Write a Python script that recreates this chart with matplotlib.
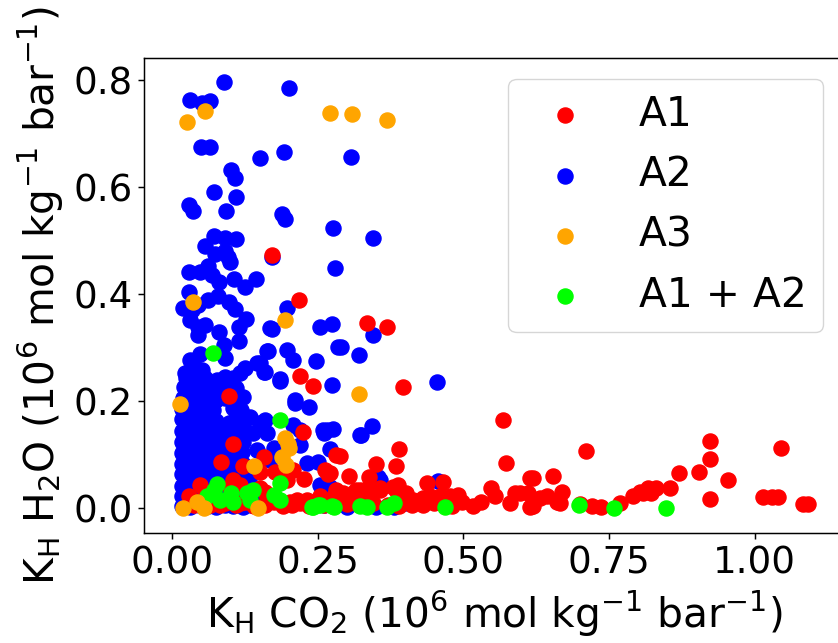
import matplotlib
matplotlib.use("Agg")
import matplotlib.pyplot as plt

# ---------------- data ----------------
a3_x = [0.025, 0.057, 0.270, 0.308, 0.369, 0.035, 0.193, 0.321, 0.014, 0.019,
        0.054, 0.042, 0.141, 0.148, 0.194, 0.200, 0.188, 0.196, 0.198]
a3_y = [0.722, 0.743, 0.739, 0.737, 0.726, 0.385, 0.352, 0.213, 0.194, 0.000,
        0.000, 0.012, 0.079, 0.000, 0.131, 0.112, 0.096, 0.081, 0.120]

a12_x = [0.070, 0.185, 0.077, 0.071, 0.060, 0.100, 0.105, 0.128, 0.139, 0.134,
         0.082, 0.185, 0.174, 0.185, 0.242, 0.251, 0.274, 0.322, 0.334, 0.368,
         0.380, 0.468, 0.699, 0.759, 0.847, 0.240, 0.254, 0.277]
a12_y = [0.291, 0.164, 0.045, 0.034, 0.022, 0.028, 0.012, 0.028, 0.034, 0.016,
         0.016, 0.047, 0.025, 0.016, 0.003, 0.006, 0.004, 0.004, 0.003, 0.003,
         0.009, 0.002, 0.006, 0.001, 0.001, 0.003, 0.006, 0.003]

a1_x = [0.172, 0.217, 0.219, 0.242, 0.098, 0.335, 0.369, 0.397, 0.568, 0.573,
        0.389, 0.288, 0.349, 0.385, 0.271, 0.303, 0.337, 0.388, 0.437, 0.465,
        0.548, 0.554, 0.588, 0.614, 0.282, 0.294, 0.311, 0.322, 0.340, 0.357,
        0.385, 0.402, 0.411, 0.431, 0.442, 0.460, 0.477, 0.491, 0.497, 0.517,
        0.614, 0.620, 0.654, 0.710, 0.611, 0.597, 0.631, 0.643, 0.620, 0.670,
        0.666, 0.720, 0.737, 0.768, 0.791, 0.803, 0.817, 0.831, 0.854, 0.808,
        0.822, 0.870, 0.904, 0.924, 0.924, 0.923, 0.954, 1.014, 1.029, 1.040,
        1.046, 1.083, 1.091, 0.104, 0.084, 0.122, 0.157, 0.151, 0.048, 0.105,
        0.117, 0.099, 0.177, 0.197, 0.225, 0.268, 0.282, 0.028, 0.151, 0.037,
        0.082, 0.117, 0.162, 0.202, 0.214, 0.231, 0.254, 0.277, 0.288, 0.414,
        0.293, 0.316, 0.338, 0.356, 0.379, 0.402, 0.208, 0.226, 0.263, 0.159,
        0.031, 0.050, 0.065, 0.090, 0.110, 0.125, 0.140, 0.160, 0.175, 0.190,
        0.205, 0.220, 0.235, 0.260, 0.270, 0.300, 0.320, 0.345, 0.370, 0.390,
        0.430, 0.450, 0.480, 0.530, 0.580, 0.660, 0.700]
a1_y = [0.473, 0.389, 0.247, 0.229, 0.210, 0.346, 0.338, 0.226, 0.164, 0.085,
        0.111, 0.098, 0.082, 0.078, 0.065, 0.060, 0.059, 0.044, 0.047, 0.049,
        0.037, 0.022, 0.028, 0.056, 0.034, 0.022, 0.028, 0.034, 0.022, 0.037,
        0.034, 0.022, 0.006, 0.019, 0.022, 0.022, 0.022, 0.025, 0.012, 0.004,
        0.003, 0.057, 0.061, 0.107, 0.028, 0.028, 0.019, 0.022, 0.004, 0.031,
        0.009, 0.004, 0.003, 0.010, 0.022, 0.031, 0.037, 0.037, 0.037, 0.028,
        0.028, 0.065, 0.067, 0.126, 0.092, 0.017, 0.052, 0.021, 0.021, 0.021,
        0.112, 0.008, 0.008, 0.120, 0.086, 0.079, 0.096, 0.068, 0.044, 0.053,
        0.044, 0.040, 0.067, 0.053, 0.143, 0.064, 0.100, 0.023, 0.037, 0.006,
        0.006, 0.009, 0.016, 0.012, 0.016, 0.016, 0.022, 0.022, 0.016, 0.016,
        0.028, 0.034, 0.040, 0.034, 0.040, 0.028, 0.072, 0.055, 0.072, 0.030,
        0.010, 0.015, 0.005, 0.010, 0.005, 0.012, 0.004, 0.006, 0.012, 0.004,
        0.006, 0.010, 0.004, 0.006, 0.012, 0.008, 0.005, 0.010, 0.006, 0.004,
        0.006, 0.010, 0.004, 0.012, 0.010, 0.012, 0.008]

a2_x = [0.089, 0.030, 0.064, 0.051, 0.200, 0.049, 0.065, 0.150, 0.192, 0.307,
        0.101, 0.108, 0.071, 0.109, 0.028, 0.036, 0.093, 0.188, 0.193, 0.276,
        0.345, 0.072, 0.091, 0.110, 0.057, 0.073, 0.091, 0.099, 0.096, 0.171,
        0.028, 0.048, 0.062, 0.068, 0.080, 0.106, 0.125, 0.144, 0.028, 0.019,
        0.034, 0.045, 0.062, 0.079, 0.097, 0.108, 0.031, 0.045, 0.057, 0.045,
        0.081, 0.114, 0.127, 0.114, 0.168, 0.088, 0.091, 0.031, 0.048, 0.022,
        0.037, 0.051, 0.077, 0.117, 0.125, 0.151, 0.160, 0.162, 0.280, 0.197,
        0.171, 0.254, 0.274, 0.285, 0.197, 0.208, 0.247, 0.185, 0.274, 0.210,
        0.164, 0.145, 0.157, 0.344, 0.290, 0.321, 0.455, 0.276, 0.324, 0.343,
        0.271, 0.354, 0.457, 0.211, 0.234, 0.160, 0.208, 0.220, 0.265, 0.260,
        0.220, 0.231, 0.251, 0.145, 0.174, 0.168, 0.134, 0.151, 0.162, 0.139,
        0.122, 0.185, 0.259, 0.322, 0.254, 0.271, 0.357, 0.260, 0.300, 0.350,
        0.400, 0.380,
        # dense cluster near the origin
        0.016, 0.030, 0.046, 0.061, 0.075, 0.091, 0.105, 0.121, 0.136, 0.150,
        0.017, 0.031, 0.045, 0.060, 0.076, 0.090, 0.106, 0.120, 0.135,
        0.016, 0.030, 0.046, 0.061, 0.075, 0.091, 0.105, 0.121, 0.137,
        0.017, 0.031, 0.045, 0.060, 0.076, 0.090, 0.106, 0.120, 0.134,
        0.016, 0.030, 0.046, 0.061, 0.075, 0.091, 0.105, 0.121,
        0.017, 0.031, 0.045, 0.060, 0.076, 0.090, 0.106, 0.120,
        0.016, 0.030, 0.046, 0.061, 0.075, 0.091, 0.105, 0.121,
        0.017, 0.031, 0.045, 0.060, 0.076, 0.090, 0.106, 0.120,
        0.016, 0.030, 0.046, 0.061, 0.075, 0.098, 0.110,
        0.017, 0.031, 0.045, 0.060, 0.070, 0.105, 0.118,
        0.018, 0.030, 0.046, 0.061, 0.075, 0.091, 0.105, 0.121,
        0.020, 0.034, 0.048, 0.063, 0.080, 0.095, 0.110,
        0.024, 0.040, 0.056, 0.090, 0.104]
a2_y = [0.797, 0.764, 0.762, 0.757, 0.786, 0.675, 0.675, 0.654, 0.665, 0.657,
        0.632, 0.617, 0.592, 0.582, 0.567, 0.556, 0.556, 0.550, 0.540, 0.523,
        0.505, 0.508, 0.505, 0.503, 0.490, 0.475, 0.480, 0.460, 0.469, 0.470,
        0.441, 0.442, 0.453, 0.436, 0.422, 0.429, 0.414, 0.428, 0.405, 0.374,
        0.371, 0.380, 0.389, 0.396, 0.386, 0.372, 0.352, 0.339, 0.343, 0.324,
        0.330, 0.339, 0.353, 0.313, 0.336, 0.305, 0.280, 0.277, 0.288, 0.252,
        0.265, 0.259, 0.240, 0.252, 0.262, 0.271, 0.255, 0.293, 0.449, 0.374,
        0.335, 0.338, 0.344, 0.301, 0.296, 0.277, 0.275, 0.241, 0.230, 0.202,
        0.293, 0.271, 0.255, 0.323, 0.301, 0.287, 0.236, 0.148, 0.137, 0.153,
        0.110, 0.059, 0.050, 0.196, 0.189, 0.165, 0.156, 0.147, 0.147, 0.140,
        0.118, 0.084, 0.087, 0.109, 0.112, 0.090, 0.171, 0.159, 0.140, 0.140,
        0.153, 0.237, 0.146, 0.137, 0.044, 0.040, 0.053, 0.005, 0.003, 0.003,
        0.010, 0.002,
        # dense cluster near the origin
        0.004, 0.003, 0.005, 0.004, 0.003, 0.005, 0.004, 0.003, 0.005, 0.020,
        0.022, 0.024, 0.021, 0.023, 0.022, 0.024, 0.021, 0.023, 0.025,
        0.042, 0.044, 0.041, 0.043, 0.045, 0.042, 0.044, 0.041, 0.040,
        0.063, 0.061, 0.064, 0.062, 0.060, 0.063, 0.061, 0.064, 0.060,
        0.083, 0.085, 0.082, 0.084, 0.086, 0.083, 0.085, 0.082,
        0.104, 0.102, 0.105, 0.103, 0.101, 0.104, 0.102, 0.105,
        0.124, 0.126, 0.123, 0.125, 0.127, 0.124, 0.126, 0.123,
        0.145, 0.143, 0.146, 0.144, 0.142, 0.145, 0.143, 0.146,
        0.166, 0.164, 0.167, 0.165, 0.163, 0.160, 0.168,
        0.186, 0.184, 0.187, 0.185, 0.183, 0.188, 0.184,
        0.206, 0.204, 0.207, 0.205, 0.203, 0.206, 0.204, 0.207,
        0.226, 0.224, 0.227, 0.225, 0.223, 0.226, 0.224,
        0.244, 0.246, 0.243, 0.245, 0.243]

groups = ["A1", "A2", "A3", "A1 + A2"]
colors = ["red", "blue", "orange", "lime"]

# ---------------- figure ----------------
fig = plt.figure(figsize=(8.38, 6.43), dpi=100)
ax = fig.add_axes([0.1722, 0.1706, 0.834, 0.7387])

S = 118
h_a2 = ax.scatter(a2_x, a2_y, s=S, color=colors[1], label=groups[1], zorder=2)
h_a1 = ax.scatter(a1_x, a1_y, s=S, color=colors[0], label=groups[0], zorder=3)
h_a12 = ax.scatter(a12_x, a12_y, s=S, color=colors[3], label=groups[3], zorder=4)
h_a3 = ax.scatter(a3_x, a3_y, s=S, color=colors[2], label=groups[2], zorder=5)

ax.set_xlim(-0.048, 1.152)
ax.set_ylim(-0.047, 0.841)
ax.set_xticks([0.0, 0.25, 0.5, 0.75, 1.0])
ax.set_yticks([0.0, 0.2, 0.4, 0.6, 0.8])

ax.tick_params(labelsize=26.7, width=1.07, length=4.67)
for sp in ax.spines.values():
    sp.set_linewidth(1.07)

ax.set_xlabel(r"K$_\mathrm{H}$ CO$_2$ (10$^6$ mol kg$^{-1}$ bar$^{-1}$)", fontsize=29.3, labelpad=5.3)
ax.set_ylabel(r"K$_\mathrm{H}$ H$_2$O (10$^6$ mol kg$^{-1}$ bar$^{-1}$)", fontsize=29.3, labelpad=5.3)

ax.legend(handles=[h_a1, h_a2, h_a3, h_a12], labels=groups, loc="upper right",
          fontsize=29.3, borderaxespad=0.5)

fig.savefig("out.png", dpi=100)
